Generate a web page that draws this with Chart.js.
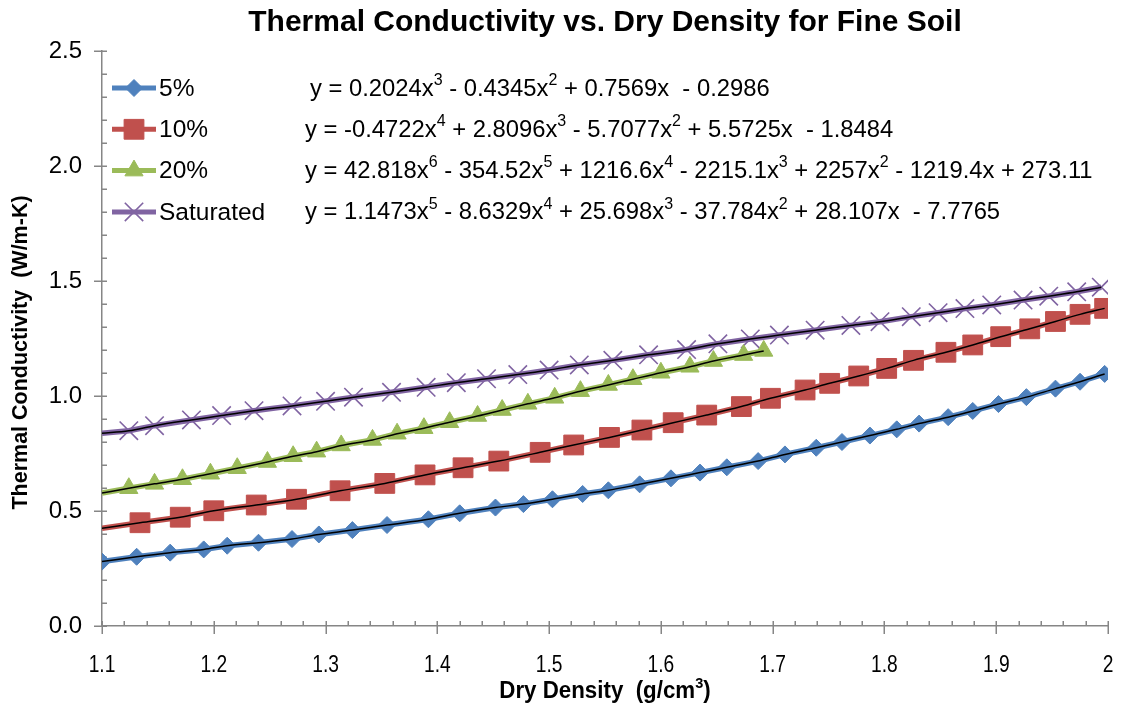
<!DOCTYPE html>
<html>
<head>
<meta charset="utf-8">
<title>Thermal Conductivity vs. Dry Density for Fine Soil</title>
<script src="https://cdn.jsdelivr.net/npm/chart.js@4.4.1/dist/chart.umd.min.js"></script>
<style>
  html, body { margin: 0; padding: 0; background: #ffffff; }
  #wrap { width: 1128px; height: 711px; position: relative; }
</style>
</head>
<body>
<div id="wrap"><canvas id="chart" width="1128" height="711"></canvas></div>
<script>
// ---- data: dry density (g/cm3) and thermal conductivity (W/m-K) ----
const density5  = [1.100,1.131,1.161,1.191,1.212,1.240,1.270,1.294,1.324,1.355,1.392,1.420,1.452,1.477,1.503,1.530,1.553,1.581,1.609,1.635,1.659,1.687,1.711,1.739,1.762,1.787,1.811,1.831,1.857,1.879,1.902,1.927,1.953,1.975,1.997];
const conduct5  = [0.280,0.301,0.319,0.333,0.349,0.362,0.378,0.398,0.417,0.439,0.464,0.490,0.515,0.530,0.551,0.574,0.590,0.616,0.642,0.667,0.690,0.717,0.746,0.775,0.800,0.828,0.855,0.880,0.908,0.935,0.965,0.995,1.032,1.062,1.096];

const density10 = [1.134,1.170,1.200,1.238,1.274,1.313,1.353,1.389,1.423,1.455,1.492,1.522,1.554,1.583,1.611,1.641,1.672,1.698,1.729,1.751,1.777,1.802,1.826,1.855,1.879,1.904,1.930,1.953,1.975,1.997];
const conduct10 = [0.449,0.473,0.501,0.526,0.551,0.588,0.620,0.657,0.688,0.717,0.755,0.787,0.820,0.852,0.884,0.917,0.954,0.990,1.026,1.055,1.087,1.120,1.155,1.190,1.222,1.258,1.292,1.324,1.355,1.381];

const density20 = [1.124,1.147,1.172,1.197,1.221,1.248,1.271,1.292,1.314,1.342,1.364,1.388,1.411,1.436,1.458,1.481,1.505,1.528,1.553,1.575,1.600,1.626,1.647,1.674,1.692];
const conduct20 = [0.599,0.618,0.638,0.662,0.686,0.713,0.738,0.758,0.785,0.809,0.836,0.860,0.886,0.913,0.939,0.966,0.992,1.021,1.048,1.073,1.101,1.127,1.152,1.178,1.196];

const densitySat = [1.124,1.147,1.180,1.207,1.236,1.270,1.300,1.325,1.359,1.390,1.417,1.444,1.472,1.500,1.527,1.557,1.589,1.623,1.651,1.680,1.706,1.738,1.770,1.796,1.824,1.848,1.872,1.896,1.924,1.947,1.972,1.994];
const conductSat = [0.849,0.871,0.896,0.915,0.936,0.957,0.977,0.995,1.016,1.038,1.058,1.075,1.093,1.113,1.135,1.155,1.179,1.202,1.227,1.248,1.265,1.286,1.307,1.323,1.345,1.362,1.380,1.396,1.417,1.434,1.453,1.473];

// fitted curves start at the left edge of the density range
const curveStartDensity = 1.1;
const curveStart = { s5: 0.278, s10: 0.425, s20: 0.578, sSat: 0.838 };

const seriesNames = ['5%', '10%', '20%', 'Saturated'];
const fitEquations = [
  'y = 0.2024x^3 - 0.4345x^2 + 0.7569x  - 0.2986',
  'y = -0.4722x^4 + 2.8096x^3 - 5.7077x^2 + 5.5725x  - 1.8484',
  'y = 42.818x^6 - 354.52x^5 + 1216.6x^4 - 2215.1x^3 + 2257x^2 - 1219.4x + 273.11',
  'y = 1.1473x^5 - 8.6329x^4 + 25.698x^3 - 37.784x^2 + 28.107x  - 7.7765'
];

const xTickLabels = ['1.1','1.2','1.3','1.4','1.5','1.6','1.7','1.8','1.9','2'];
const yTickLabels = ['0.0','0.5','1.0','1.5','2.0','2.5'];

// ---- styling ----
const FONT = "'Liberation Sans', Arial, sans-serif";
const AXIS_GREY = '#868686';
const styles = [
  { color: '#4F81BD', pointStyle: 'rectRot',  radius: 8.5, border: 1 },
  { color: '#C0504D', pointStyle: 'rect',     radius: 14,  border: 1 },
  { color: '#9BBB59', pointStyle: 'triangle', radius: 10.5, border: 1 },
  { color: '#8064A2', pointStyle: 'crossRot', radius: 13,  border: 1.6 }
];

function pairs(xs, ys) { return xs.map((x, i) => ({ x: x, y: ys[i] })); }
function withStart(xs, ys, y0) {
  const pts = pairs(xs, ys);
  if (xs[0] > curveStartDensity) pts.unshift({ x: curveStartDensity, y: y0 });
  return pts;
}

const seriesPoints = [pairs(density5, conduct5), pairs(density10, conduct10), pairs(density20, conduct20), pairs(densitySat, conductSat)];
const seriesCurves = [
  withStart(density5, conduct5, curveStart.s5),
  withStart(density10, conduct10, curveStart.s10),
  withStart(density20, conduct20, curveStart.s20),
  withStart(densitySat, conductSat, curveStart.sSat)
];

const datasets = [];
seriesNames.forEach((name, i) => {
  const st = styles[i];
  // thick coloured connecting line (bottom layer)
  datasets.push({
    label: name + ' line', data: seriesCurves[i], borderColor: st.color, borderWidth: 5.5,
    pointRadius: 0, tension: 0, fill: false, order: 3
  });
  // markers
  datasets.push({
    label: name, data: seriesPoints[i], showLine: false,
    pointStyle: st.pointStyle, pointRadius: st.radius, pointHoverRadius: st.radius,
    pointBackgroundColor: st.color, pointBorderColor: st.color, pointBorderWidth: st.border,
    order: 2
  });
  // thin black fitted curve (top layer)
  datasets.push({
    label: name + ' fit', data: seriesCurves[i], borderColor: '#000000', borderWidth: 1.5,
    pointRadius: 0, tension: 0.35, cubicInterpolationMode: 'monotone', fill: false, order: 1
  });
});

// draw text with ^n exponents as superscripts; returns width
function drawEquation(ctx, text, x, y, size) {
  const parts = text.split(/(\^\d+)/);
  let cx = x;
  parts.forEach(p => {
    if (!p) return;
    if (p[0] === '^') {
      ctx.font = Math.round(size * 0.66) + 'px ' + FONT;
      ctx.fillText(p.slice(1), cx, y - size * 0.36);
      cx += ctx.measureText(p.slice(1)).width;
    } else {
      ctx.font = size + 'px ' + FONT;
      ctx.fillText(p, cx, y);
      cx += ctx.measureText(p).width;
    }
  });
  return cx - x;
}

function drawMarker(ctx, st, x, y) {
  const r = st.radius;
  ctx.save();
  ctx.fillStyle = st.color; ctx.strokeStyle = st.color; ctx.lineWidth = st.border;
  ctx.beginPath();
  if (st.pointStyle === 'rectRot') {
    ctx.moveTo(x, y - r); ctx.lineTo(x + r, y); ctx.lineTo(x, y + r); ctx.lineTo(x - r, y); ctx.closePath();
    ctx.fill(); ctx.stroke();
  } else if (st.pointStyle === 'rect') {
    const s = r * Math.SQRT1_2;
    ctx.rect(x - s, y - s, 2 * s, 2 * s); ctx.fill(); ctx.stroke();
  } else if (st.pointStyle === 'triangle') {
    ctx.moveTo(x, y - r);
    ctx.lineTo(x + r * Math.sin(2 * Math.PI / 3), y - r * Math.cos(2 * Math.PI / 3));
    ctx.lineTo(x + r * Math.sin(4 * Math.PI / 3), y - r * Math.cos(4 * Math.PI / 3));
    ctx.closePath(); ctx.fill(); ctx.stroke();
  } else {
    const s = r * Math.SQRT1_2;
    ctx.moveTo(x - s, y - s); ctx.lineTo(x + s, y + s);
    ctx.moveTo(x - s, y + s); ctx.lineTo(x + s, y - s);
    ctx.stroke();
  }
  ctx.restore();
}

// text squeezed horizontally (the axis labels use a condensed face)
function fillCondensed(ctx, text, cx, cy, squeeze, align) {
  ctx.save();
  ctx.translate(cx, cy);
  ctx.scale(squeeze, 1);
  ctx.textAlign = align;
  ctx.fillText(text, 0, 0);
  ctx.restore();
}

const decorations = {
  id: 'decorations',
  beforeDatasetsDraw(chart) {
    const { ctx, chartArea, scales: { x, y } } = chart;
    ctx.save();
    ctx.strokeStyle = AXIS_GREY;
    ctx.lineWidth = 1.5;
    ctx.beginPath();
    const ax = chartArea.left;
    const ay = chartArea.bottom;
    // y axis: majors every 0.5 cross the axis, minors every 0.1 inside
    for (let k = 0; k <= Math.round((y.max - y.min) / 0.1); k++) {
      const v = y.min + k * 0.1;
      const p = Math.round(y.getPixelForValue(v)) + 0.25;
      const major = k % 5 === 0;
      ctx.moveTo(ax - (major ? 8 : 0), p);
      ctx.lineTo(ax + 5, p);
    }
    // x axis: majors every 0.1 cross the axis, minors every 0.02 inside
    for (let k = 0; k <= Math.round((x.max - x.min) / 0.02); k++) {
      const v = x.min + k * 0.02;
      const p = Math.round(x.getPixelForValue(v)) + 0.25;
      const major = k % 5 === 0;
      ctx.moveTo(p, ay + (major ? 8 : 0));
      ctx.lineTo(p, ay - 5);
    }
    ctx.stroke();
    ctx.restore();
  },
  afterDraw(chart) {
    const { ctx, chartArea, scales: { x } } = chart;
    const midX = (chartArea.left + chartArea.right) / 2;
    ctx.save();
    ctx.fillStyle = '#000000';
    ctx.textBaseline = 'middle';

    // chart title
    ctx.font = 'bold 30px ' + FONT;
    ctx.textAlign = 'center';
    ctx.fillText('Thermal Conductivity vs. Dry Density for Fine Soil', midX, 23);

    // x tick labels
    ctx.font = '24px ' + FONT;
    x.ticks.forEach((t, i) => {
      fillCondensed(ctx, xTickLabels[i], x.getPixelForValue(t.value), chartArea.bottom + 39, 0.8, 'center');
    });

    // x axis title with superscript
    const xt1 = 'Dry Density  (g/cm', xt2 = '3', xt3 = ')';
    const sq = 0.97;
    ctx.font = 'bold 23px ' + FONT;
    const w1 = ctx.measureText(xt1).width * sq, w3 = ctx.measureText(xt3).width * sq;
    ctx.font = 'bold 15px ' + FONT;
    const w2 = ctx.measureText(xt2).width * sq;
    let sx = midX - (w1 + w2 + w3) / 2;
    const ty = 692;
    ctx.font = 'bold 23px ' + FONT; fillCondensed(ctx, xt1, sx, ty, sq, 'left'); sx += w1;
    ctx.font = 'bold 15px ' + FONT; fillCondensed(ctx, xt2, sx, ty - 8, sq, 'left'); sx += w2;
    ctx.font = 'bold 23px ' + FONT; fillCondensed(ctx, xt3, sx, ty, sq, 'left');

    // y axis title
    ctx.save();
    ctx.translate(21, (chartArea.top + chartArea.bottom) / 2 + 14);
    ctx.rotate(-Math.PI / 2);
    ctx.textAlign = 'center';
    ctx.font = 'bold 21.5px ' + FONT;
    ctx.fillText('Thermal Conductivity  (W/m-K)', 0, 0);
    ctx.restore();

    // legend with fitted equations
    ctx.textAlign = 'left';
    seriesNames.forEach((name, i) => {
      const st = styles[i];
      const ry = chartArea.top + 37 + i * 41.3;
      const lx = chartArea.left + 10;
      ctx.save();
      ctx.strokeStyle = st.color; ctx.lineWidth = 5;
      ctx.beginPath(); ctx.moveTo(lx, ry); ctx.lineTo(lx + 44, ry); ctx.stroke();
      ctx.restore();
      drawMarker(ctx, st, lx + 22, ry);
      ctx.fillStyle = '#000000';
      ctx.font = '24.5px ' + FONT;
      ctx.fillText(name, lx + 47, ry + 1);
      drawEquation(ctx, fitEquations[i], chartArea.left + (i === 0 ? 208 : 203), ry + 1, 23.8);
    });
    ctx.restore();
  }
};

new Chart(document.getElementById('chart'), {
  type: 'line',
  data: { datasets: datasets },
  plugins: [decorations],
  options: {
    responsive: false,
    animation: false,
    events: [],
    layout: { padding: { top: 51, right: 20, left: 0, bottom: 0 } },
    plugins: { legend: { display: false }, title: { display: false }, tooltip: { enabled: false } },
    scales: {
      x: {
        type: 'linear', min: 1.1, max: 2,
        afterFit(scale) { scale.height = 85; },
        border: { display: true, color: AXIS_GREY, width: 1.5 },
        grid: { display: false, drawTicks: false },
        ticks: { stepSize: 0.1, display: false, autoSkip: false }
      },
      y: {
        type: 'linear', min: 0, max: 2.5,
        afterFit(scale) { scale.width = 102; },
        border: { display: true, color: AXIS_GREY, width: 1.5 },
        grid: { display: false, drawTicks: false },
        ticks: {
          stepSize: 0.5, padding: 20, color: '#000000',
          font: { family: FONT, size: 24 },
          callback: (v, i) => yTickLabels[i]
        }
      }
    }
  }
});
</script>
</body>
</html>
